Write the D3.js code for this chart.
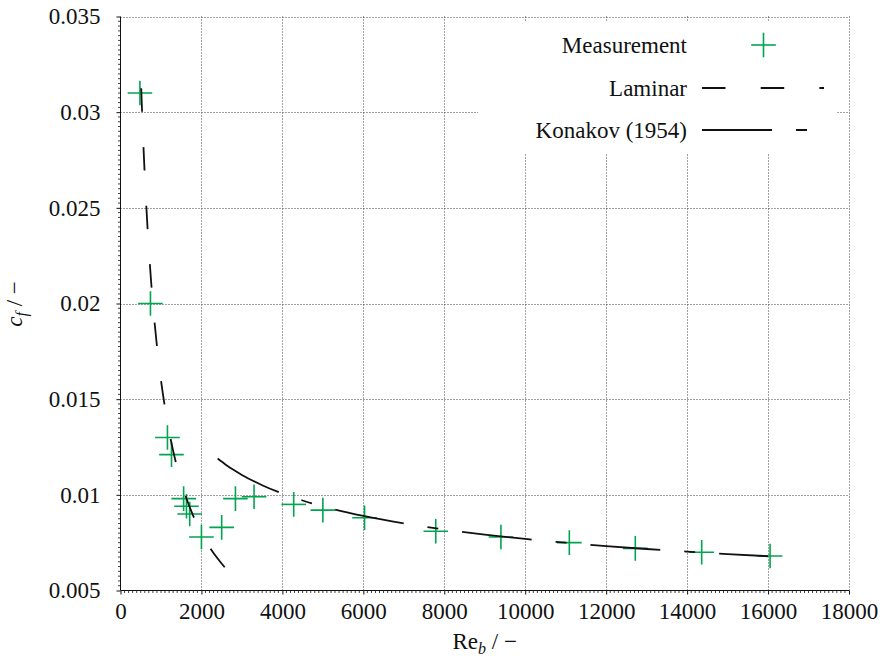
<!DOCTYPE html>
<html>
<head>
<meta charset="utf-8">
<script src="https://cdn.jsdelivr.net/npm/d3@7"></script>
<style>
  html, body { margin: 0; padding: 0; background: #fff; }
  svg { display: block; }
</style>
</head>
<body>
<svg id="chart" width="886" height="661"></svg>
<script>
// Measured skin-friction coefficient versus bulk Reynolds number
const reMeas = [480, 740, 1160, 1260, 1560, 1630, 1710, 2000, 2500, 2840, 3300, 4280,
                5000, 6030, 7790, 9400, 11090, 12720, 14360, 16050];
const cfMeas = [0.0310, 0.0200, 0.0130, 0.0121, 0.0098, 0.0094, 0.0090, 0.0078, 0.0083,
                0.0098, 0.0099, 0.0095, 0.0092, 0.0088, 0.0081, 0.0078, 0.0075, 0.0072,
                0.0070, 0.0068];

// Laminar reference curve
const reLam = [512, 550, 600, 650, 700, 750, 800, 900, 1000, 1100, 1200, 1300, 1400,
               1500, 1600, 1800, 2000, 2200, 2400, 2580];
const cfLam = [0.03125, 0.02909, 0.02667, 0.02462, 0.02286, 0.02133, 0.02000, 0.01778,
               0.01600, 0.01455, 0.01333, 0.01231, 0.01143, 0.01067, 0.01000, 0.00889,
               0.00800, 0.00727, 0.00667, 0.00620];

// Konakov (1954) turbulent correlation
const reKon = [2400, 2600, 2800, 3000, 3500, 4000, 4500, 5000, 6000, 7000, 8000, 9000,
               10000, 11000, 12000, 13000, 14000, 15000, 16000];
const cfKon = [0.011895, 0.011577, 0.011294, 0.011039, 0.010501, 0.010066, 0.009703,
               0.009396, 0.008898, 0.008507, 0.008188, 0.007922, 0.007695, 0.007497,
               0.007324, 0.007170, 0.007031, 0.006905, 0.006791];

const xTicks = [0, 2000, 4000, 6000, 8000, 10000, 12000, 14000, 16000, 18000];
const yTicks = [0.005, 0.01, 0.015, 0.02, 0.025, 0.03, 0.035];
const seriesNames = ["Measurement", "Laminar", "Konakov (1954)"];

const green = "#00a550";
const ink = "#111";
const fontSize = 23;
const serif = '"Liberation Serif", "Times New Roman", Times, serif';

const svg = d3.select("#chart");
const x = d3.scaleLinear().domain([0, 18000]).range([120.5, 849]);
const y = d3.scaleLinear().domain([0.005, 0.035]).range([590.5, 16.5]);

// grid
const grid = svg.append("g").attr("stroke", "#444").attr("stroke-width", 1)
  .attr("stroke-dasharray", "1,2");
grid.selectAll("line.v").data(xTicks.filter(d => d > 0)).join("line")
  .attr("x1", d => Math.round(x(d)) + 0.5).attr("x2", d => Math.round(x(d)) + 0.5)
  .attr("y1", y(0.005)).attr("y2", y(0.035));
grid.selectAll("line.h").data(yTicks.filter(d => d > 0.005)).join("line")
  .attr("y1", d => Math.round(y(d)) + 0.5).attr("y2", d => Math.round(y(d)) + 0.5)
  .attr("x1", x(0)).attr("x2", x(18000));

// axes
const xAxis = d3.axisBottom(x).tickValues(xTicks).tickFormat(d3.format("d"))
  .tickSize(4).tickPadding(8);
const yAxis = d3.axisLeft(y).tickValues(yTicks).tickFormat(d => String(d))
  .tickSize(4).tickPadding(16);

const gx = svg.append("g").attr("transform", `translate(0,${y(0.005)})`).call(xAxis);
const gy = svg.append("g").attr("transform", `translate(${x(0)},0)`).call(yAxis);
[gx, gy].forEach(g => {
  g.select(".domain").remove();
  g.selectAll(".tick line").attr("stroke", ink);
  g.selectAll(".tick text").attr("font-size", fontSize)
    .style("font-family", serif).attr("fill", ink);
});
svg.append("line").attr("x1", x(0)).attr("x2", x(18000)).attr("y1", y(0.005)).attr("y2", y(0.005))
  .attr("stroke", ink);
svg.append("line").attr("x1", x(0)).attr("x2", x(0)).attr("y1", y(0.005)).attr("y2", y(0.035))
  .attr("stroke", ink);

// minor ticks
const xMinor = d3.range(0, 18001, 100).filter(v => v % 2000 !== 0);
svg.append("g").selectAll("line").data(xMinor).join("line")
  .attr("x1", d => x(d)).attr("x2", d => x(d))
  .attr("y1", y(0.005)).attr("y2", y(0.005) + 2.5)
  .attr("stroke", ink).attr("stroke-width", 0.8);
const yMinor = d3.range(0, 121).map(i => 0.005 + i * 0.00025)
  .filter(v => Math.abs(v / 0.005 - Math.round(v / 0.005)) > 1e-6);
svg.append("g").selectAll("line").data(yMinor).join("line")
  .attr("y1", d => y(d)).attr("y2", d => y(d))
  .attr("x1", x(0)).attr("x2", x(0) - 2.5)
  .attr("stroke", ink).attr("stroke-width", 0.8);

// plot area clip
svg.append("defs").append("clipPath").attr("id", "plotClip")
  .append("rect").attr("x", x(0)).attr("y", y(0.035))
  .attr("width", x(18000) - x(0)).attr("height", y(0.005) - y(0.035));
const plot = svg.append("g").attr("clip-path", "url(#plotClip)");

// plus marker
function plus(sel, half) {
  sel.append("line").attr("x1", -half).attr("x2", half).attr("y1", 0).attr("y2", 0);
  sel.append("line").attr("x1", 0).attr("x2", 0).attr("y1", -half).attr("y2", half);
}

const meas = d3.zip(reMeas, cfMeas);
plot.append("g").attr("stroke", green).attr("stroke-width", 1.6)
  .selectAll("g").data(meas).join("g")
  .attr("transform", d => `translate(${x(d[0])},${y(d[1])})`)
  .each(function () { plus(d3.select(this), 12.3); });

const line = d3.line().x(d => x(d[0])).y(d => y(d[1])).curve(d3.curveMonotoneX);

const lamDash = "23.5,35.2";
const konDash = "70,24,11,24";

plot.append("path").datum(d3.zip(reLam, cfLam))
  .attr("d", line).attr("fill", "none").attr("stroke", ink)
  .attr("stroke-width", 1.8).attr("stroke-dasharray", lamDash);
plot.append("path").datum(d3.zip(reKon, cfKon))
  .attr("d", line).attr("fill", "none").attr("stroke", ink)
  .attr("stroke-width", 1.8).attr("stroke-dasharray", konDash);

// legend
const legend = svg.append("g");
legend.append("rect").attr("x", 478).attr("y", 22).attr("width", 359).attr("height", 131)
  .attr("fill", "#fff");
const rowY = [45, 88, 130];
const sampleX0 = 702, sampleX1 = 824;
seriesNames.forEach((name, i) => {
  legend.append("text").attr("x", 687).attr("y", rowY[i]).attr("dy", "0.33em")
    .attr("text-anchor", "end").attr("font-size", fontSize).attr("fill", ink)
    .style("font-family", serif).text(name);
});
legend.append("g").attr("stroke", green).attr("stroke-width", 1.6)
  .attr("transform", `translate(${(sampleX0 + sampleX1) / 2 + 0.5},${rowY[0]})`)
  .call(g => plus(g, 12.3));
legend.append("line").attr("x1", sampleX0).attr("x2", sampleX1)
  .attr("y1", rowY[1]).attr("y2", rowY[1])
  .attr("stroke", ink).attr("stroke-width", 1.8).attr("stroke-dasharray", lamDash);
legend.append("line").attr("x1", sampleX0).attr("x2", sampleX1)
  .attr("y1", rowY[2]).attr("y2", rowY[2])
  .attr("stroke", ink).attr("stroke-width", 1.8).attr("stroke-dasharray", konDash);

// axis titles
const xt = svg.append("text").attr("x", (x(0) + x(18000)) / 2).attr("y", 649)
  .attr("text-anchor", "middle").attr("font-size", fontSize).attr("fill", ink)
  .style("font-family", serif);
xt.append("tspan").text("Re");
xt.append("tspan").attr("font-style", "italic").attr("font-size", 16).attr("dy", 5).text("b");
xt.append("tspan").attr("dy", -5).text(" / \u2212");

const yt = svg.append("text")
  .attr("transform", `translate(22,${304}) rotate(-90)`)
  .attr("text-anchor", "middle").attr("font-size", fontSize).attr("fill", ink)
  .style("font-family", serif);
yt.append("tspan").attr("font-style", "italic").text("c");
yt.append("tspan").attr("font-style", "italic").attr("font-size", 16).attr("dy", 5).text("f");
yt.append("tspan").attr("dy", -5).text(" / \u2212");
</script>
</body>
</html>
